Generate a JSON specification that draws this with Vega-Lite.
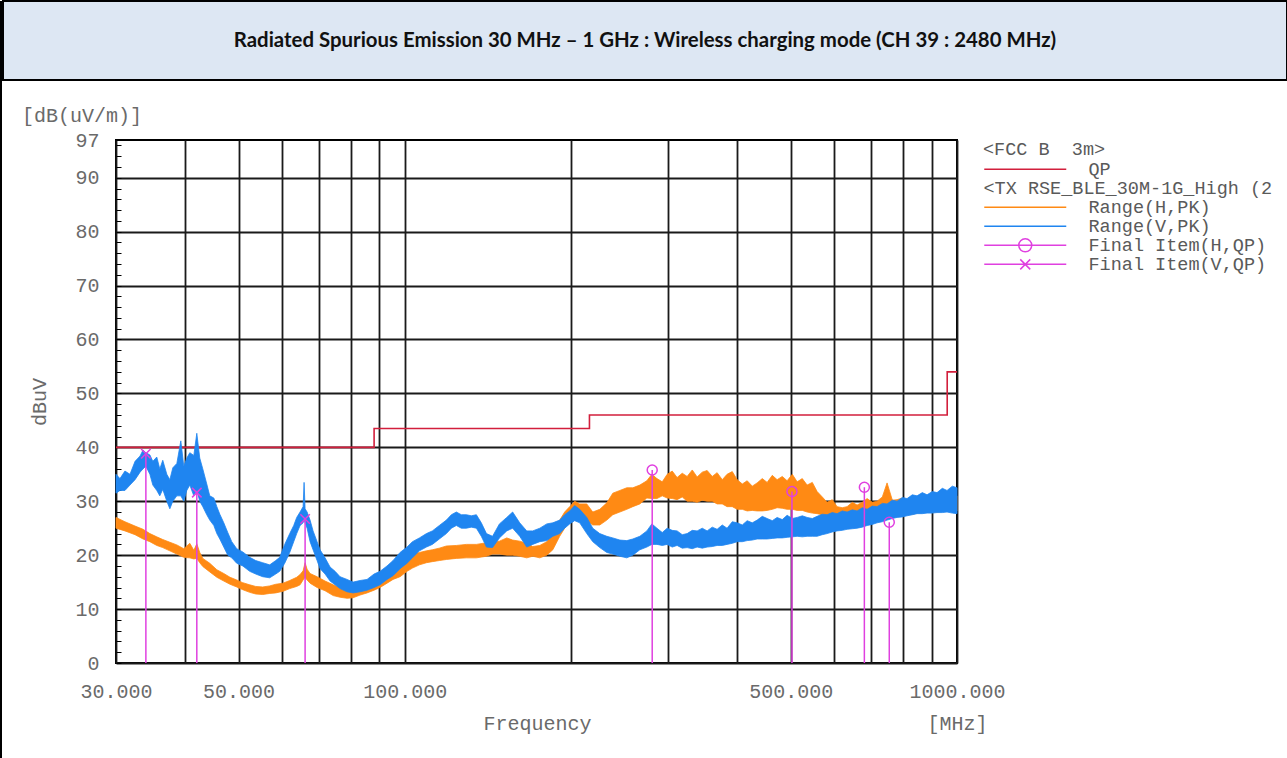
{
  "$schema": "https://vega.github.io/schema/vega-lite/v6.json",
  "padding": 0,
  "background": "#ffffff",
  "spacing": 0,
  "resolve": {
    "scale": {"color": "independent", "stroke": "independent", "shape": "independent"},
    "legend": {"color": "independent", "stroke": "independent", "shape": "independent"}
  },
  "config": {
    "font": "Liberation Mono",
    "view": {"stroke": null},
    "axis": {
      "labelFont": "Liberation Mono", "labelFontSize": 20, "labelColor": "#6a6a6a",
      "titleFont": "Liberation Mono", "titleFontSize": 20, "titleFontWeight": "normal", "titleColor": "#6a6a6a",
      "gridColor": "#1a1a1a", "gridWidth": 1.8, "domain": false,
      "labelFlush": false, "labelOverlap": false, "labelBound": false, "tickCount": 100
    },
    "legend": {
      "labelFont": "Liberation Mono", "labelFontSize": 18.5, "labelColor": "#5a5a5a",
      "titleFont": "Liberation Mono", "titleFontSize": 18.5, "titleFontWeight": "normal", "titleColor": "#5a5a5a",
      "symbolSize": 256, "symbolStrokeWidth": 1.5, "labelOffset": 87,
      "rowPadding": 0, "titlePadding": 3.5, "offset": 22, "padding": 0,
      "labelLimit": 400, "titleLimit": 500
    }
  },
  "datasets": {
    "limit": [
      {"f": 30, "y": 40, "n": "QP"},
      {"f": 88, "y": 43.5, "n": "QP"},
      {"f": 216, "y": 46, "n": "QP"},
      {"f": 960, "y": 54, "n": "QP"},
      {"f": 1000, "y": 54, "n": "QP"}
    ],
    "h": [
      {"f": 30.0, "lo": 25, "hi": 27},
      {"f": 31.14, "lo": 24.5, "hi": 26.2},
      {"f": 32.48, "lo": 23.8, "hi": 25.4},
      {"f": 33.58, "lo": 23, "hi": 24.8},
      {"f": 34.55, "lo": 22.5, "hi": 24},
      {"f": 35.56, "lo": 21.8, "hi": 23.4},
      {"f": 36.46, "lo": 21.4, "hi": 22.9},
      {"f": 37.55, "lo": 20.8, "hi": 22.4},
      {"f": 38.66, "lo": 20.2, "hi": 21.9},
      {"f": 39.8, "lo": 19.6, "hi": 21.2},
      {"f": 40.81, "lo": 19.5, "hi": 22.2},
      {"f": 41.5, "lo": 19.3, "hi": 20.9},
      {"f": 42.02, "lo": 19.4, "hi": 22.1},
      {"f": 42.54, "lo": 18.6, "hi": 20.5},
      {"f": 43.08, "lo": 17.9, "hi": 19.4},
      {"f": 44.35, "lo": 16.9, "hi": 18.5},
      {"f": 45.68, "lo": 15.9, "hi": 17.3},
      {"f": 47.02, "lo": 15.2, "hi": 16.6},
      {"f": 48.26, "lo": 14.6, "hi": 15.9},
      {"f": 49.63, "lo": 14.1, "hi": 15.4},
      {"f": 50.89, "lo": 13.6, "hi": 14.9},
      {"f": 52.39, "lo": 13.1, "hi": 14.5},
      {"f": 53.72, "lo": 12.8, "hi": 14.2},
      {"f": 55.31, "lo": 12.7, "hi": 14.1},
      {"f": 56.95, "lo": 12.9, "hi": 14.3},
      {"f": 58.39, "lo": 13, "hi": 14.6},
      {"f": 60.2, "lo": 13.3, "hi": 14.8},
      {"f": 61.9, "lo": 13.8, "hi": 15.3},
      {"f": 63.73, "lo": 14.2, "hi": 15.9},
      {"f": 64.63, "lo": 14.5, "hi": 16.4},
      {"f": 65.45, "lo": 15.4, "hi": 17.1},
      {"f": 66.0, "lo": 15.9, "hi": 18.6},
      {"f": 66.55, "lo": 15.4, "hi": 17.4},
      {"f": 67.38, "lo": 14.8, "hi": 16.6},
      {"f": 69.38, "lo": 14, "hi": 16},
      {"f": 71.73, "lo": 13.4, "hi": 15.2},
      {"f": 74.2, "lo": 12.5, "hi": 14.5},
      {"f": 76.36, "lo": 12.2, "hi": 14},
      {"f": 78.62, "lo": 12, "hi": 13.8},
      {"f": 80.61, "lo": 12.1, "hi": 13.6},
      {"f": 82.99, "lo": 12.6, "hi": 14},
      {"f": 85.45, "lo": 13, "hi": 14.6},
      {"f": 87.98, "lo": 13.5, "hi": 15.2},
      {"f": 90.21, "lo": 14, "hi": 15.8},
      {"f": 92.88, "lo": 14.8, "hi": 16.8},
      {"f": 95.23, "lo": 15.5, "hi": 17.6},
      {"f": 98.05, "lo": 16, "hi": 18.4},
      {"f": 100.95, "lo": 17, "hi": 19.2},
      {"f": 103.25, "lo": 17.6, "hi": 20.2},
      {"f": 106.3, "lo": 18.2, "hi": 20.5},
      {"f": 109.45, "lo": 18.6, "hi": 20.8},
      {"f": 112.2, "lo": 18.8, "hi": 21},
      {"f": 115.5, "lo": 19, "hi": 21.3},
      {"f": 118.95, "lo": 19.2, "hi": 21.7},
      {"f": 124.0, "lo": 19.4, "hi": 21.8},
      {"f": 129.3, "lo": 19.5, "hi": 22},
      {"f": 134.8, "lo": 19.5, "hi": 22},
      {"f": 140.6, "lo": 19.8, "hi": 22.3},
      {"f": 144.2, "lo": 20.2, "hi": 22.6},
      {"f": 148.4, "lo": 20.2, "hi": 22.6},
      {"f": 153.0, "lo": 20, "hi": 23.2},
      {"f": 156.8, "lo": 20, "hi": 22.8},
      {"f": 161.5, "lo": 19.8, "hi": 22.6},
      {"f": 166.3, "lo": 19.5, "hi": 22.2},
      {"f": 170.5, "lo": 19.8, "hi": 21.6},
      {"f": 175.6, "lo": 19.5, "hi": 21.8},
      {"f": 180.8, "lo": 20, "hi": 22.5},
      {"f": 185.4, "lo": 21, "hi": 24},
      {"f": 190.8, "lo": 23.5, "hi": 26.5},
      {"f": 194.8, "lo": 25, "hi": 28},
      {"f": 198.9, "lo": 26.5, "hi": 29},
      {"f": 203.1, "lo": 27.5, "hi": 30},
      {"f": 207.4, "lo": 26.5, "hi": 29.5},
      {"f": 213.6, "lo": 26.4, "hi": 29.5},
      {"f": 219.0, "lo": 25.6, "hi": 28},
      {"f": 225.5, "lo": 25.6, "hi": 28.5},
      {"f": 232.2, "lo": 26.5, "hi": 29.7},
      {"f": 238.1, "lo": 27.5, "hi": 31.5},
      {"f": 245.2, "lo": 28, "hi": 32},
      {"f": 252.4, "lo": 28.5, "hi": 32.5},
      {"f": 258.8, "lo": 29, "hi": 32.5},
      {"f": 266.5, "lo": 29.5, "hi": 33},
      {"f": 274.4, "lo": 30.6, "hi": 33.8},
      {"f": 280.2, "lo": 30.5, "hi": 35},
      {"f": 286.2, "lo": 30.5, "hi": 34.2},
      {"f": 292.6, "lo": 31, "hi": 33.6},
      {"f": 298.7, "lo": 30.6, "hi": 35},
      {"f": 305.0, "lo": 30.5, "hi": 35.6},
      {"f": 311.3, "lo": 30.3, "hi": 34.4},
      {"f": 318.0, "lo": 30.8, "hi": 35.2},
      {"f": 324.6, "lo": 30, "hi": 34.6},
      {"f": 331.6, "lo": 30, "hi": 35.8},
      {"f": 338.4, "lo": 29.8, "hi": 34.5},
      {"f": 345.7, "lo": 30.2, "hi": 35.4},
      {"f": 352.8, "lo": 30, "hi": 35.7},
      {"f": 360.4, "lo": 30, "hi": 34.6},
      {"f": 367.8, "lo": 29.5, "hi": 35.3},
      {"f": 375.8, "lo": 29.5, "hi": 34},
      {"f": 383.4, "lo": 29, "hi": 35},
      {"f": 391.8, "lo": 29, "hi": 35.5},
      {"f": 399.9, "lo": 28.5, "hi": 34},
      {"f": 408.5, "lo": 28.5, "hi": 33.2},
      {"f": 416.9, "lo": 28.2, "hi": 33.8},
      {"f": 425.9, "lo": 28.3, "hi": 32.8},
      {"f": 434.6, "lo": 28.2, "hi": 33.4},
      {"f": 444.0, "lo": 28.2, "hi": 34.2},
      {"f": 453.1, "lo": 28.3, "hi": 33.5},
      {"f": 462.9, "lo": 28.5, "hi": 34.8},
      {"f": 472.4, "lo": 28.8, "hi": 34},
      {"f": 482.6, "lo": 28.7, "hi": 34.6},
      {"f": 492.5, "lo": 28.5, "hi": 33.8},
      {"f": 503.2, "lo": 28.5, "hi": 35},
      {"f": 513.5, "lo": 28.3, "hi": 33.6},
      {"f": 524.6, "lo": 28.3, "hi": 34.2},
      {"f": 535.3, "lo": 28, "hi": 33},
      {"f": 547.0, "lo": 27.8, "hi": 33.5},
      {"f": 558.1, "lo": 27.7, "hi": 31.8},
      {"f": 570.2, "lo": 27.5, "hi": 30.8},
      {"f": 581.8, "lo": 27, "hi": 29.8},
      {"f": 594.5, "lo": 27, "hi": 30.3},
      {"f": 606.6, "lo": 26.8, "hi": 29},
      {"f": 619.8, "lo": 26.7, "hi": 28.8},
      {"f": 632.4, "lo": 26.5, "hi": 29},
      {"f": 646.3, "lo": 26.5, "hi": 29.8},
      {"f": 659.3, "lo": 26.5, "hi": 29.3},
      {"f": 673.8, "lo": 26.8, "hi": 29.8},
      {"f": 687.4, "lo": 27, "hi": 30.5},
      {"f": 702.5, "lo": 27.2, "hi": 29.8},
      {"f": 716.6, "lo": 27.5, "hi": 30},
      {"f": 732.5, "lo": 27.6, "hi": 30.8},
      {"f": 747.1, "lo": 27.8, "hi": 33.4},
      {"f": 763.7, "lo": 27.8, "hi": 30.2},
      {"f": 778.9, "lo": 28, "hi": 30.3},
      {"f": 796.2, "lo": 27.8, "hi": 30.6},
      {"f": 812.0, "lo": 27.5, "hi": 30},
      {"f": 830.1, "lo": 27.6, "hi": 30.6},
      {"f": 846.6, "lo": 27.8, "hi": 30.3},
      {"f": 865.4, "lo": 27.9, "hi": 30.8},
      {"f": 882.6, "lo": 28, "hi": 30.5},
      {"f": 902.3, "lo": 28, "hi": 31},
      {"f": 920.1, "lo": 28, "hi": 30.8},
      {"f": 940.7, "lo": 28.1, "hi": 31.2},
      {"f": 959.3, "lo": 28.2, "hi": 31},
      {"f": 980.7, "lo": 28.2, "hi": 31.4},
      {"f": 1000, "lo": 28.2, "hi": 31}
    ],
    "v": [
      {"f": 30.0, "lo": 31.5, "hi": 35},
      {"f": 30.5, "lo": 32, "hi": 34.2},
      {"f": 31.14, "lo": 32, "hi": 35.6},
      {"f": 31.8, "lo": 33, "hi": 35},
      {"f": 32.48, "lo": 34, "hi": 37.4},
      {"f": 33.17, "lo": 35.4, "hi": 38.4},
      {"f": 33.58, "lo": 36, "hi": 39.5},
      {"f": 33.98, "lo": 36.5, "hi": 39},
      {"f": 34.55, "lo": 35, "hi": 38.6},
      {"f": 34.98, "lo": 33, "hi": 37.4},
      {"f": 35.56, "lo": 32, "hi": 38.2},
      {"f": 36.01, "lo": 31, "hi": 36},
      {"f": 36.46, "lo": 32.2, "hi": 37.6},
      {"f": 37.08, "lo": 30, "hi": 35},
      {"f": 37.55, "lo": 28.6, "hi": 34},
      {"f": 38.02, "lo": 30, "hi": 36.2},
      {"f": 38.66, "lo": 31, "hi": 37},
      {"f": 39.31, "lo": 31, "hi": 41.2},
      {"f": 39.8, "lo": 30, "hi": 36.5},
      {"f": 40.3, "lo": 32, "hi": 38},
      {"f": 40.81, "lo": 33, "hi": 39},
      {"f": 41.5, "lo": 31, "hi": 38.5},
      {"f": 42.02, "lo": 32, "hi": 42.6},
      {"f": 42.54, "lo": 30, "hi": 38},
      {"f": 43.08, "lo": 29, "hi": 36},
      {"f": 43.8, "lo": 27.5, "hi": 33.2},
      {"f": 44.35, "lo": 26.5, "hi": 31},
      {"f": 45.11, "lo": 25.5, "hi": 30.6},
      {"f": 45.68, "lo": 24, "hi": 29},
      {"f": 46.25, "lo": 23, "hi": 27.6},
      {"f": 47.02, "lo": 21.5, "hi": 26},
      {"f": 47.81, "lo": 20, "hi": 24.2},
      {"f": 48.61, "lo": 19.5, "hi": 22.5},
      {"f": 49.63, "lo": 18.5, "hi": 21.2},
      {"f": 50.89, "lo": 18, "hi": 20.6},
      {"f": 52.39, "lo": 17, "hi": 19.6},
      {"f": 53.72, "lo": 16.5, "hi": 19},
      {"f": 55.31, "lo": 16, "hi": 18.6},
      {"f": 56.95, "lo": 15.8, "hi": 18.2},
      {"f": 58.39, "lo": 16.5, "hi": 19},
      {"f": 59.37, "lo": 17, "hi": 19.6},
      {"f": 60.62, "lo": 18.5, "hi": 22},
      {"f": 61.9, "lo": 20.5, "hi": 24},
      {"f": 62.94, "lo": 22.5, "hi": 25.5},
      {"f": 63.73, "lo": 24, "hi": 27},
      {"f": 64.63, "lo": 25.5, "hi": 28},
      {"f": 65.45, "lo": 26, "hi": 29},
      {"f": 65.72, "lo": 26.5, "hi": 33.5},
      {"f": 66.0, "lo": 26, "hi": 28.6},
      {"f": 66.55, "lo": 25, "hi": 28},
      {"f": 67.38, "lo": 22.5, "hi": 26.5},
      {"f": 68.23, "lo": 21, "hi": 24.5},
      {"f": 69.38, "lo": 19, "hi": 22.5},
      {"f": 70.25, "lo": 17.5, "hi": 21},
      {"f": 71.73, "lo": 16.5, "hi": 19.5},
      {"f": 73.24, "lo": 15.2, "hi": 17.8},
      {"f": 74.79, "lo": 14.5, "hi": 17},
      {"f": 76.36, "lo": 13.8, "hi": 16},
      {"f": 78.62, "lo": 13.2, "hi": 15.5},
      {"f": 80.61, "lo": 13, "hi": 15},
      {"f": 82.99, "lo": 13.2, "hi": 15.3},
      {"f": 85.45, "lo": 13.5, "hi": 15.5},
      {"f": 87.98, "lo": 14, "hi": 16.5},
      {"f": 90.21, "lo": 14.5, "hi": 17},
      {"f": 92.88, "lo": 15.5, "hi": 18},
      {"f": 95.23, "lo": 16.2, "hi": 19},
      {"f": 98.05, "lo": 17.5, "hi": 20.5},
      {"f": 100.95, "lo": 18.5, "hi": 21.5},
      {"f": 103.25, "lo": 19.5, "hi": 22.5},
      {"f": 106.3, "lo": 20.8, "hi": 23.2},
      {"f": 109.45, "lo": 21.5, "hi": 24},
      {"f": 112.2, "lo": 22, "hi": 24.5},
      {"f": 115.5, "lo": 23, "hi": 25.5},
      {"f": 118.95, "lo": 24, "hi": 26.5},
      {"f": 121.45, "lo": 25, "hi": 27.5},
      {"f": 124.0, "lo": 25.5, "hi": 28},
      {"f": 126.6, "lo": 25, "hi": 27.5},
      {"f": 129.3, "lo": 25, "hi": 27.5},
      {"f": 132.0, "lo": 25.2, "hi": 27.3},
      {"f": 134.8, "lo": 25, "hi": 27.5},
      {"f": 137.6, "lo": 23.5, "hi": 26},
      {"f": 140.6, "lo": 21.5, "hi": 24},
      {"f": 144.2, "lo": 21.4, "hi": 23.5},
      {"f": 148.4, "lo": 23.2, "hi": 25.8},
      {"f": 153.0, "lo": 24.5, "hi": 27},
      {"f": 156.8, "lo": 25, "hi": 28},
      {"f": 161.5, "lo": 23.5, "hi": 26},
      {"f": 166.3, "lo": 21.5, "hi": 24.5},
      {"f": 170.5, "lo": 22, "hi": 24.5},
      {"f": 175.6, "lo": 22.5, "hi": 25},
      {"f": 180.8, "lo": 22.7, "hi": 25.8},
      {"f": 185.4, "lo": 23.5, "hi": 26},
      {"f": 190.8, "lo": 24, "hi": 26.5},
      {"f": 194.8, "lo": 25, "hi": 27.5},
      {"f": 198.9, "lo": 25.8, "hi": 28.2},
      {"f": 203.1, "lo": 26.4, "hi": 29.2},
      {"f": 207.4, "lo": 26, "hi": 28.5},
      {"f": 213.6, "lo": 24, "hi": 27},
      {"f": 219.0, "lo": 22.5, "hi": 25},
      {"f": 225.5, "lo": 21.4, "hi": 24},
      {"f": 232.2, "lo": 20.5, "hi": 23.5},
      {"f": 238.1, "lo": 20.2, "hi": 23.2},
      {"f": 245.2, "lo": 19.8, "hi": 22.8},
      {"f": 252.4, "lo": 19.5, "hi": 22.7},
      {"f": 258.8, "lo": 20, "hi": 23},
      {"f": 266.5, "lo": 21, "hi": 23.5},
      {"f": 274.4, "lo": 21.5, "hi": 24.5},
      {"f": 280.2, "lo": 22, "hi": 25.8},
      {"f": 286.2, "lo": 22, "hi": 25},
      {"f": 292.6, "lo": 21.8, "hi": 24.2},
      {"f": 298.7, "lo": 22, "hi": 25},
      {"f": 305.0, "lo": 21.5, "hi": 24.6},
      {"f": 311.3, "lo": 21.8, "hi": 24.5},
      {"f": 318.0, "lo": 21.3, "hi": 23.8},
      {"f": 324.6, "lo": 21.4, "hi": 24},
      {"f": 331.6, "lo": 21.2, "hi": 24.6},
      {"f": 338.4, "lo": 21.5, "hi": 24.5},
      {"f": 345.7, "lo": 21.3, "hi": 25},
      {"f": 352.8, "lo": 21.5, "hi": 24.5},
      {"f": 360.4, "lo": 21.6, "hi": 25.2},
      {"f": 367.8, "lo": 21.8, "hi": 24.8},
      {"f": 375.8, "lo": 21.8, "hi": 25.6},
      {"f": 383.4, "lo": 22, "hi": 25},
      {"f": 391.8, "lo": 22.2, "hi": 26.2},
      {"f": 399.9, "lo": 22.5, "hi": 26},
      {"f": 408.5, "lo": 22.5, "hi": 25.6},
      {"f": 416.9, "lo": 22.7, "hi": 26.4},
      {"f": 425.9, "lo": 22.8, "hi": 26},
      {"f": 434.6, "lo": 23, "hi": 26.5},
      {"f": 444.0, "lo": 23, "hi": 27.2},
      {"f": 453.1, "lo": 23, "hi": 26.8},
      {"f": 462.9, "lo": 23.1, "hi": 26.4},
      {"f": 472.4, "lo": 23.2, "hi": 27},
      {"f": 482.6, "lo": 23.2, "hi": 26.6},
      {"f": 492.5, "lo": 23.3, "hi": 27.4},
      {"f": 503.2, "lo": 23.4, "hi": 26.8},
      {"f": 513.5, "lo": 23.5, "hi": 27},
      {"f": 524.6, "lo": 23.4, "hi": 27.3},
      {"f": 535.3, "lo": 23.5, "hi": 27},
      {"f": 547.0, "lo": 23.5, "hi": 26.8},
      {"f": 558.1, "lo": 23.5, "hi": 27.2},
      {"f": 570.2, "lo": 23.8, "hi": 27.6},
      {"f": 581.8, "lo": 24, "hi": 27.5},
      {"f": 594.5, "lo": 24.3, "hi": 27.9},
      {"f": 606.6, "lo": 24.5, "hi": 27.7},
      {"f": 619.8, "lo": 24.6, "hi": 28.2},
      {"f": 632.4, "lo": 24.8, "hi": 28},
      {"f": 646.3, "lo": 24.9, "hi": 28.4},
      {"f": 659.3, "lo": 25, "hi": 28.2},
      {"f": 673.8, "lo": 25.2, "hi": 28.8},
      {"f": 687.4, "lo": 25.5, "hi": 28.5},
      {"f": 702.5, "lo": 25.7, "hi": 29.1},
      {"f": 716.6, "lo": 26, "hi": 29},
      {"f": 732.5, "lo": 26.2, "hi": 29.6},
      {"f": 747.1, "lo": 26.5, "hi": 29.5},
      {"f": 763.7, "lo": 26.8, "hi": 30.2},
      {"f": 778.9, "lo": 27, "hi": 30},
      {"f": 796.2, "lo": 27.1, "hi": 30.7},
      {"f": 812.0, "lo": 27.3, "hi": 30.5},
      {"f": 830.1, "lo": 27.5, "hi": 31.2},
      {"f": 846.6, "lo": 27.7, "hi": 31},
      {"f": 865.4, "lo": 27.7, "hi": 31.6},
      {"f": 882.6, "lo": 27.8, "hi": 31.2},
      {"f": 902.3, "lo": 27.8, "hi": 31.8},
      {"f": 920.1, "lo": 27.9, "hi": 31.6},
      {"f": 940.7, "lo": 27.9, "hi": 32.4},
      {"f": 959.3, "lo": 28, "hi": 32},
      {"f": 980.7, "lo": 27.8, "hi": 32.8},
      {"f": 1000, "lo": 27.7, "hi": 32.5}
    ],
    "final": [
      {"f": 33.98, "v": 38.8, "pol": "V"},
      {"f": 42.02, "v": 31.6, "pol": "V"},
      {"f": 66.0, "v": 26.7, "pol": "V"},
      {"f": 280.6, "v": 35.8, "pol": "H"},
      {"f": 502.5, "v": 31.8, "pol": "H"},
      {"f": 679.6, "v": 32.6, "pol": "H"},
      {"f": 754.0, "v": 26.1, "pol": "H"}
    ]
  },
  "hconcat": [
    {
      "width": 2,
      "height": 757,
      "view": {"fill": "#000000", "stroke": null},
      "data": {"values": []},
      "mark": "text",
      "encoding": {}
    },
    {
      "spacing": 0,
      "resolve": {
        "scale": {"color": "independent", "stroke": "independent", "shape": "independent"},
        "legend": {"color": "independent", "stroke": "independent", "shape": "independent"}
      },
      "vconcat": [
        {
          "width": 1284,
          "height": 79,
          "view": {"fill": "#DDE7F3", "stroke": "#000000", "strokeWidth": 2},
          "data": {"values": [{"t": "Radiated Spurious Emission 30 MHz – 1 GHz : Wireless charging mode (CH 39 : 2480 MHz)"}]},
          "mark": {"type": "text", "font": "Lato", "fontWeight": "bold", "fontSize": 20.4, "color": "#111111"},
          "encoding": {"text": {"field": "t", "type": "nominal"}}
        },
        {
          "spacing": 0,
          "resolve": {
            "scale": {"color": "independent", "stroke": "independent", "shape": "independent"},
            "legend": {"color": "independent", "stroke": "independent", "shape": "independent"}
          },
          "hconcat": [
            {
              "width": 18,
              "height": 10,
              "data": {"values": []},
              "mark": "text",
              "encoding": {}
            },
            {
              "width": 841,
              "height": 523,
              "view": {"stroke": "#000000", "strokeWidth": 2},
              "title": {
                "text": ["", "[dB(uV/m)]"],
                "anchor": "start", "frame": "group", "dx": -94,
                "font": "Liberation Mono", "fontSize": 20, "fontWeight": "normal", "color": "#6a6a6a",
                "lineHeight": 23.5, "offset": 4
              },
              "layer": [
                {
                  "data": {"name": "limit"},
                  "mark": {"type": "line", "interpolate": "step-after", "strokeWidth": 1.6},
                  "encoding": {
                    "x": {
                      "field": "f", "type": "quantitative",
                      "scale": {"type": "log", "domain": [30, 1000], "nice": false},
                      "axis": {
                        "values": [30, 40, 50, 60, 70, 80, 90, 100, 200, 300, 400, 500, 600, 700, 800, 900, 1000],
                        "labelExpr": "(datum.value == 30 || datum.value == 50 || datum.value == 100 || datum.value == 500 || datum.value == 1000) ? format(datum.value, '.3f') : ''",
                        "grid": true, "ticks": false, "labelPadding": 18, "tickCount": 100,
                        "title": "Frequency\u00a0\u00a0\u00a0\u00a0\u00a0\u00a0\u00a0\u00a0\u00a0\u00a0\u00a0\u00a0\u00a0\u00a0\u00a0\u00a0\u00a0\u00a0\u00a0\u00a0\u00a0\u00a0\u00a0\u00a0\u00a0\u00a0\u00a0\u00a0[MHz]",
                        "titleX": 367, "titleAlign": "left", "titlePadding": 12
                      }
                    },
                    "y": {
                      "field": "y", "type": "quantitative",
                      "scale": {"domain": [0, 97], "nice": false, "zero": false},
                      "axis": {
                        "values": [0, 2, 4, 6, 8, 10, 12, 14, 16, 18, 20, 22, 24, 26, 28, 30, 32, 34, 36, 38, 40, 42, 44, 46, 48, 50, 52, 54, 56, 58, 60, 62, 64, 66, 68, 70, 72, 74, 76, 78, 80, 82, 84, 86, 88, 90, 92, 94, 96, 97],
                        "labelExpr": "(datum.value % 10 === 0 || datum.value === 97) ? datum.label : ''",
                        "grid": true, "tickCount": 100,
                        "gridOpacity": {"condition": {"test": "datum.value % 10 === 0", "value": 1}, "value": 0},
                        "ticks": true, "tickSize": -5, "tickColor": "#000000", "tickWidth": 1,
                        "labelPadding": 22,
                        "title": "dBuV", "titlePadding": 25
                      }
                    },
                    "stroke": {
                      "field": "n", "type": "nominal",
                      "scale": {
                        "domain": ["QP", "<TX RSE_BLE_30M-1G_High (2", "Range(H,PK)", "Range(V,PK)", "Final Item(H,QP)", "Final Item(V,QP)"],
                        "range": ["#D21F3C", "transparent", "#FF8A14", "#1F85F0", "#E040E0", "#E040E0"]
                      },
                      "legend": {
                        "title": "<FCC B\u00a0 3m>",
                        "symbolFillColor": "transparent",
                        "clipHeight": 14.7,
                        "rowPadding": 0,
                        "encode": {
                          "labels": {"update": {"dx": {"signal": "datum.value === '<TX RSE_BLE_30M-1G_High (2' ? -105 : 0"}}}
                        }
                      }
                    }
                  }
                },
                {
                  "data": {"name": "h"},
                  "mark": {"type": "area", "fill": "#FF8A14", "stroke": "#FF8A14", "strokeWidth": 0.8},
                  "encoding": {
                    "x": {"field": "f", "type": "quantitative"},
                    "y": {"field": "lo", "type": "quantitative"},
                    "y2": {"field": "hi"}
                  }
                },
                {
                  "data": {"name": "v"},
                  "mark": {"type": "area", "fill": "#1F85F0", "stroke": "#1F85F0", "strokeWidth": 0.8},
                  "encoding": {
                    "x": {"field": "f", "type": "quantitative"},
                    "y": {"field": "lo", "type": "quantitative"},
                    "y2": {"field": "hi"}
                  }
                },
                {
                  "data": {"name": "final"},
                  "mark": {"type": "rule", "color": "#E040E0", "strokeWidth": 1.5},
                  "encoding": {
                    "x": {"field": "f", "type": "quantitative"},
                    "y": {"field": "v", "type": "quantitative"},
                    "y2": {"datum": 0}
                  }
                },
                {
                  "data": {"name": "final"},
                  "transform": [{"filter": "datum.pol === 'H'"}],
                  "mark": {"type": "point", "shape": "circle", "filled": false, "color": "#E040E0", "strokeWidth": 1.5, "size": 100, "opacity": 1},
                  "encoding": {
                    "x": {"field": "f", "type": "quantitative"},
                    "y": {"field": "v", "type": "quantitative"}
                  }
                },
                {
                  "data": {"name": "final"},
                  "transform": [{"filter": "datum.pol === 'V'"}],
                  "mark": {"type": "point", "shape": "M-1,-1L1,1M-1,1L1,-1", "filled": false, "color": "#E040E0", "strokeWidth": 1.5, "size": 90, "opacity": 1},
                  "encoding": {
                    "x": {"field": "f", "type": "quantitative"},
                    "y": {"field": "v", "type": "quantitative"}
                  }
                },
                {
                  "data": {"values": []},
                  "mark": {"type": "point", "filled": false, "opacity": 1},
                  "encoding": {
                    "stroke": {
                      "field": "n", "type": "nominal",
                      "scale": {
                        "domain": ["QP", "<TX RSE_BLE_30M-1G_High (2", "Range(H,PK)", "Range(V,PK)", "Final Item(H,QP)", "Final Item(V,QP)"],
                        "range": ["#D21F3C", "transparent", "#FF8A14", "#1F85F0", "#E040E0", "#E040E0"]
                      }
                    },
                    "shape": {
                      "field": "n", "type": "nominal",
                      "scale": {
                        "domain": ["QP", "<TX RSE_BLE_30M-1G_High (2", "Range(H,PK)", "Range(V,PK)", "Final Item(H,QP)", "Final Item(V,QP)"],
                        "range": [
                          "M-1,0H9.25",
                          "M0,0",
                          "M-1,0H9.25",
                          "M-1,0H9.25",
                          "M-1,0H9.25M4.9375,0A0.8125,0.8125 0 1,1 3.3125,0A0.8125,0.8125 0 1,1 4.9375,0",
                          "M-1,0H9.25M3.5,-0.625L4.75,0.625M3.5,0.625L4.75,-0.625"
                        ]
                      },
                      "legend": {"title": "<FCC B\u00a0 3m>", "clipHeight": 14.7, "rowPadding": 0}
                    }
                  }
                }
              ]
            }
          ]
        }
      ]
    }
  ]
}
